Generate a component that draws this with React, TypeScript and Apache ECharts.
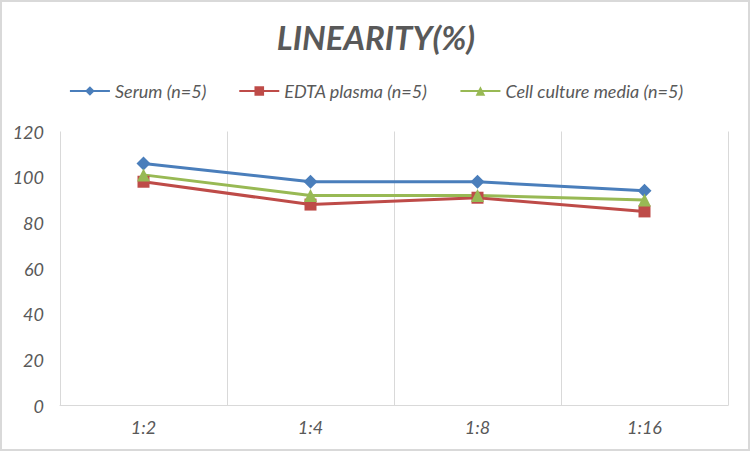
import React, { useEffect, useRef } from 'react';
import * as echarts from 'echarts';

const dilutions = ['1:2', '1:4', '1:8', '1:16'];
const serum = [106, 98, 98, 94];
const edtaPlasma = [98, 88, 91, 85];
const cellCultureMedia = [101, 92, 92, 90];

const textGray = '#595959';
const font = 'Lato, "Open Sans", sans-serif';

const App = () => {
  const chartRef = useRef<HTMLDivElement>(null);

  useEffect(() => {
    if (!chartRef.current) return;
    const chart = echarts.init(chartRef.current, undefined, { renderer: 'svg' });

    const line = (name: string, data: number[], color: string, symbol: string, size: number) => ({
      name,
      type: 'line',
      data,
      symbol,
      symbolSize: size,
      lineStyle: { color, width: 3 },
      itemStyle: { color },
    });

    chart.setOption({
      animation: false,
      backgroundColor: '#fff',
      title: {
        text: 'LINEARITY(%)',
        left: 'center',
        top: 15,
        textStyle: {
          fontFamily: font,
          fontSize: 33,
          fontWeight: 'bold',
          fontStyle: 'italic',
          color: textGray,
        },
      },
      legend: {
        top: 77,
        left: 'center',
        itemWidth: 40,
        itemHeight: 12,
        itemGap: 32,
        textStyle: { fontFamily: font, fontSize: 18, fontStyle: 'italic', color: textGray },
        data: ['Serum (n=5)', 'EDTA plasma (n=5)', 'Cell culture media (n=5)'],
      },
      grid: { left: 60, right: 24, top: 131.5, bottom: 46.5, containLabel: false },
      xAxis: {
        type: 'category',
        data: dilutions,
        boundaryGap: true,
        axisLine: { lineStyle: { color: '#d9d9d9', width: 1 } },
        axisTick: { show: false },
        splitLine: { show: true, lineStyle: { color: '#d9d9d9', width: 1 } },
        axisLabel: {
          margin: 12,
          fontFamily: font,
          fontSize: 18,
          fontStyle: 'italic',
          color: textGray,
        },
      },
      yAxis: {
        type: 'value',
        min: 0,
        max: 120,
        interval: 20,
        axisLine: { show: false },
        axisTick: { show: false },
        splitLine: { show: false },
        axisLabel: {
          margin: 16,
          fontFamily: font,
          fontSize: 18,
          fontStyle: 'italic',
          color: textGray,
        },
      },
      graphic: [
        {
          type: 'rect',
          shape: { x: 1, y: 1, width: 748, height: 449 },
          style: { fill: 'none', stroke: '#d9d9d9', lineWidth: 2 },
          silent: true,
        },
      ],
      series: [
        line('Serum (n=5)', serum, '#4a7ebb', 'diamond', 14),
        line('EDTA plasma (n=5)', edtaPlasma, '#be4b48', 'rect', 12),
        line('Cell culture media (n=5)', cellCultureMedia, '#98b954', 'triangle', 13),
      ],
    });

    return () => {
      chart.dispose();
    };
  }, []);

  return (
    <div
      ref={chartRef}
      style={{ position: 'fixed', left: 0, top: 0, width: 752, height: 452 }}
    />
  );
};

export default App;
